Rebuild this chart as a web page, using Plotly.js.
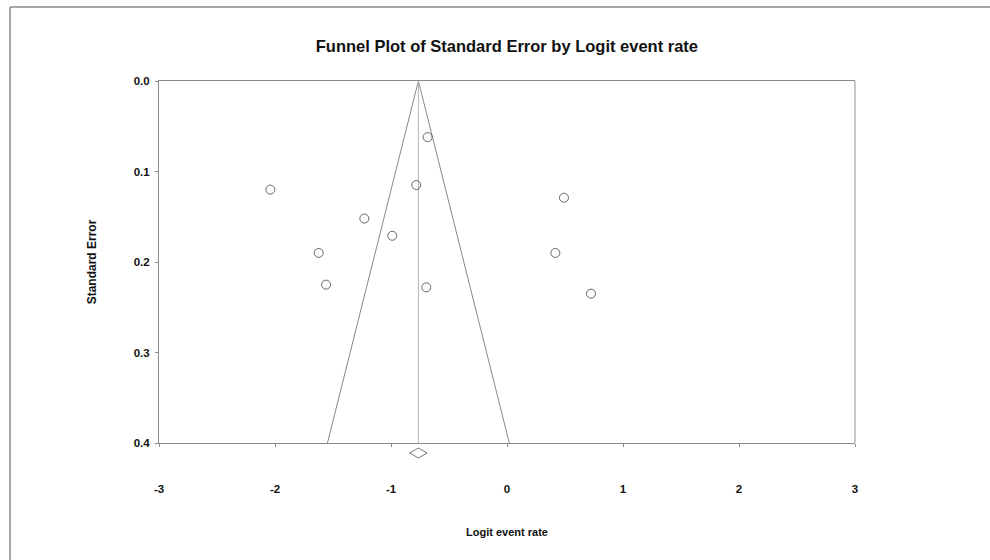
<!DOCTYPE html>
<html>
<head>
<meta charset="utf-8">
<script src="https://cdn.plot.ly/plotly-3.0.1.min.js"></script>
<style>html,body{margin:0;padding:0;background:#fff;}#chart{width:990px;height:560px;}</style>
</head>
<body>
<div id="chart"></div>
<script>
// Study data (logit event rate vs standard error)
var logitRate = [-0.684, -2.040, -0.782, -1.230, -0.989, -1.623, -1.560, -0.696, 0.491, 0.417, 0.724];
var stdError  = [0.062, 0.120, 0.115, 0.152, 0.171, 0.190, 0.225, 0.228, 0.129, 0.190, 0.235];
// Combined estimate and its confidence interval (diamond under the axis)
var pooledEstimate = -0.764;
var pooledLower = -0.839;
var pooledUpper = -0.689;
var funnelMaxSE = 0.4;
var zValue = 1.96;
var xTicks = [-3, -2, -1, 0, 1, 2, 3];
var yTicks = [0.0, 0.1, 0.2, 0.3, 0.4];

var funnelX = [pooledEstimate - zValue * funnelMaxSE, pooledEstimate, pooledEstimate + zValue * funnelMaxSE];
var funnelY = [funnelMaxSE, 0, funnelMaxSE];

var traces = [
  {x: funnelX, y: funnelY, type: 'scatter', mode: 'lines',
   line: {color: '#8a8a8a', width: 1}, hoverinfo: 'skip', showlegend: false},
  {x: [pooledEstimate, pooledEstimate], y: [0, funnelMaxSE], type: 'scatter', mode: 'lines',
   line: {color: '#b5b5b5', width: 1}, hoverinfo: 'skip', showlegend: false},
  {x: logitRate, y: stdError, type: 'scatter', mode: 'markers',
   marker: {symbol: 'circle-open', size: 9, color: '#666', line: {width: 1, color: '#666'}},
   showlegend: false}
];

// diamond: x in data units, y in paper units just below the plot area
var dY = -10/362, dH = 5/362;
var diamondPath = 'M' + pooledLower + ',' + dY +
  ' L' + pooledEstimate + ',' + (dY + dH) +
  ' L' + pooledUpper + ',' + dY +
  ' L' + pooledEstimate + ',' + (dY - dH) + ' Z';

var fontFam = 'Liberation Sans, Arial, sans-serif';
var layout = {
  width: 990, height: 560,
  margin: {l: 159, r: 135, t: 81, b: 117},
  paper_bgcolor: '#fff', plot_bgcolor: '#fff',
  font: {family: fontFam, color: '#1a1a1a'},
  title: {text: '<b>Funnel Plot of Standard Error by Logit event rate</b>',
          font: {family: fontFam, size: 16.5, color: '#111'},
          x: 0.512, xanchor: 'center', y: 1 - 46/560, yref: 'container', yanchor: 'middle'},
  xaxis: {range: [-3, 3], tickvals: xTicks, ticktext: xTicks.map(String),
          showgrid: false, zeroline: false, showline: true, mirror: true,
          linecolor: '#8a8a8a', linewidth: 1,
          ticks: 'outside', ticklen: 3, tickcolor: '#8a8a8a',
          ticklabelstandoff: 32,
          tickfont: {family: fontFam, size: 11.5, color: '#111', weight: 'bold'},
          title: {text: '<b>Logit event rate</b>', font: {family: fontFam, size: 11, color: '#111'}, standoff: 34}},
  yaxis: {range: [0.4, 0], tickvals: yTicks, ticktext: yTicks.map(function(v){return v.toFixed(1);}),
          showgrid: false, zeroline: false, showline: true,
          linecolor: '#8a8a8a', linewidth: 1,
          ticks: 'outside', ticklen: 3, tickcolor: '#8a8a8a',
          ticklabelstandoff: 3,
          tickfont: {family: fontFam, size: 11.5, color: '#111', weight: 'bold'},
          title: {text: '<b>Standard Error</b>', font: {family: fontFam, size: 12, color: '#111'}, standoff: 34}},
  shapes: [
    {type: 'path', xref: 'x', yref: 'paper', path: diamondPath,
     line: {color: '#777', width: 1}, fillcolor: 'rgba(0,0,0,0)'},
    {type: 'line', xref: 'paper', yref: 'paper', x0: 1, x1: 1, y0: 0, y1: 1,
     line: {color: '#c8c8c8', width: 2}},
    {type: 'line', xref: 'paper', yref: 'paper', x0: (10-159)/696, x1: (990-159)/696, y0: (443-7)/362, y1: (443-7)/362,
     line: {color: '#8a8a8a', width: 1.5}},
    {type: 'line', xref: 'paper', yref: 'paper', x0: (10-159)/696, x1: (10-159)/696, y0: (443-7)/362, y1: (443-560)/362,
     line: {color: '#8a8a8a', width: 1.5}}
  ]
};

Plotly.newPlot('chart', traces, layout, {displayModeBar: false, staticPlot: true});
</script>
</body>
</html>
